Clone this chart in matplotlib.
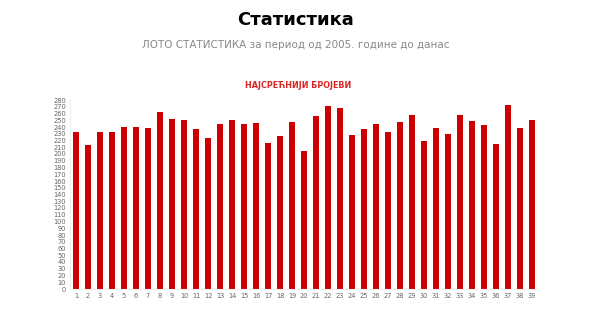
import matplotlib.pyplot as plt

numbers = list(range(1, 40))
counts = [232, 214, 232, 233, 240, 240, 238, 262, 252, 250,
          237, 223, 245, 250, 244, 246, 217, 226, 247, 204,
          256, 271, 268, 228, 237, 244, 233, 248, 258, 220,
          238, 230, 258, 249, 243, 215, 273, 238, 251]
y_ticks = list(range(0, 281, 10))

fig = plt.figure(figsize=(5.92, 3.21), dpi=100)
ax = fig.add_axes([70 / 592, 1 - 289 / 321, 468 / 592, 189 / 321])

ax.bar(numbers, counts, width=0.5, color='#cc0000')
ax.set_xlim(0.5, 39.5)
ax.set_ylim(0, 280)
ax.set_xticks(numbers)
ax.set_yticks(y_ticks)
ax.tick_params(length=0, labelsize=4.8, colors='#666666', pad=3)
for s in ['top', 'right']:
    ax.spines[s].set_visible(False)
for s in ['left', 'bottom']:
    ax.spines[s].set_color('#eeeeee')
    ax.spines[s].set_linewidth(0.8)
ax.set_clip_on(False)

fig.text(0.5, 1 - 20 / 321, 'Статистика', ha='center', va='center',
         fontsize=13, fontweight='bold', color='black')
fig.text(0.5, 1 - 45 / 321, 'ЛОТО СТАТИСТИКА за период од 2005. године до данас',
         ha='center', va='center', fontsize=7.5, color='#888888')
fig.text(298 / 592, 1 - 86 / 321, 'НАЈСРЕЋНИЈИ БРОЈЕВИ', ha='center', va='center',
         fontsize=5.8, fontweight='bold', color='#dd2222')

fig.savefig('out.png', dpi=100)
